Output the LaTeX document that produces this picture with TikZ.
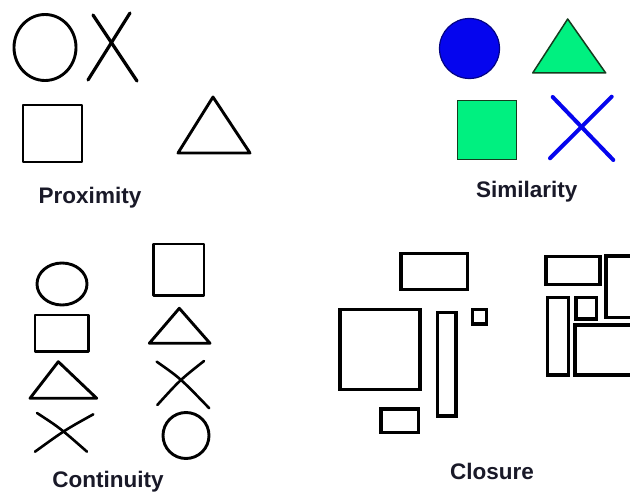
\documentclass[tikz,border=0pt]{standalone}
\usepackage{fontspec}
\setmainfont{Liberation Sans}
\begin{document}
\begin{tikzpicture}[x=1pt,y=-1pt,
  shp/.style={draw=black,line width=2.9pt,line join=round},
  xstroke/.style={draw=black,line width=3.2pt,line cap=round},
  thinx/.style={draw=black,line width=2.6pt,line cap=round},
  box/.style={draw=black,line width=3.1pt},
  lbl/.style={font=\bfseries\fontsize{22.5}{26}\selectfont,text=labelgray,inner sep=0pt}]
\definecolor{labelgray}{RGB}{25,25,40}
\definecolor{simblue}{RGB}{5,5,238}
\definecolor{simgreen}{RGB}{0,240,128}
\definecolor{darkgreen}{RGB}{20,60,30}
\path[use as bounding box,fill=white] (0,0) rectangle (630,497);
% Proximity
\draw[shp] (45,47.5) ellipse [x radius=31, y radius=33];
\draw[xstroke] (93,15) -- (137,81);
\draw[xstroke] (130,13) -- (88,80);
\draw[shp] (23,105) rectangle (82,162);
\draw[shp] (213,97) -- (178,153) -- (250,153) -- cycle;
\node[lbl] (prox) at (90,198) {Proximity};
% Similarity
\draw[draw=simblue!55!black,fill=simblue,line width=1.2pt] (469.5,48.5) circle [radius=30];
\draw[draw=darkgreen,fill=simgreen,line width=1.5pt,line join=round] (567.7,19) -- (532.7,73) -- (605.7,73) -- cycle;
\draw[draw=darkgreen,fill=simgreen,line width=1.5pt] (457.7,100.7) rectangle (516.7,159.3);
\draw[draw=simblue,line width=4pt,line cap=round] (552.7,97) -- (613.3,160);
\draw[draw=simblue,line width=4pt,line cap=round] (611.7,96.7) -- (550,158.3);
\node[lbl] (sim) at (526.7,192) {Similarity};
% Continuity left column
\draw[shp] (62,284) ellipse [x radius=25, y radius=21];
\draw[shp] (35,315) rectangle (88.3,351.7);
\draw[shp] (58.3,361.7) -- (30,398.3) -- (96.7,398.3) -- cycle;
\draw[thinx] (37,413) .. controls (60,428) .. (87,451.7);
\draw[thinx] (93.3,414.3) .. controls (65,430) .. (35,451.7);
% Continuity right column
\draw[shp] (153.3,244) rectangle (204,295.7);
\draw[shp] (179.3,308.3) -- (149.3,343.3) -- (210,343.3) -- cycle;
\draw[thinx] (156.7,361.7) .. controls (180,378) .. (209.3,408.3);
\draw[thinx] (204,361) .. controls (180,380) .. (157.3,405);
\draw[shp] (186,435.5) circle [radius=23];
\node[lbl] (cont) at (108,482) {Continuity};
% Closure left group
\draw[box] (401,253.3) rectangle (467.7,289.3);
\draw[box] (340,309.3) rectangle (420,389.3);
\draw[box] (437.3,312.3) rectangle (456,416);
\draw[box] (472.7,309.3) rectangle (486.7,324);
\draw[box] (381,409) rectangle (418.3,432.7);
% Closure right group
\draw[box] (546,256.7) rectangle (600,284.3);
\draw[box] (606,256) rectangle (640,317.3);
\draw[box] (547.3,297.3) rectangle (568.3,375);
\draw[box] (576,297.3) rectangle (596.7,319);
\draw[box] (575,325) rectangle (640,375);
\node[lbl] (clos) at (492,471.5) {Closure};
\end{tikzpicture}
\end{document}
